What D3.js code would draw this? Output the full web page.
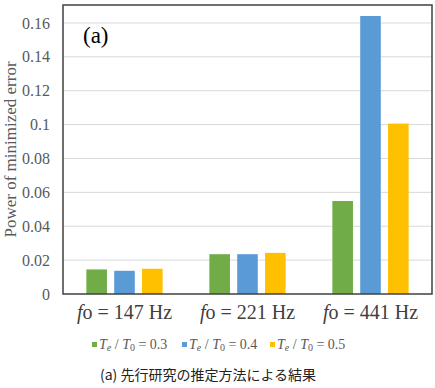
<!DOCTYPE html>
<html>
<head>
<meta charset="utf-8">
<script src="https://cdn.jsdelivr.net/npm/d3@7"></script>
<style>
  body { margin: 0; background: #fff; }
  svg { display: block; }
  .serif { font-family: "Liberation Serif", "Times New Roman", "DejaVu Serif", serif; }
  .cjk { font-family: "Noto Sans CJK JP", sans-serif; }
</style>
</head>
<body>
<svg id="chart" width="435" height="388"></svg>
<script>
// data
const categories = ['147', '221', '441'];
const seriesNames = ['0.3', '0.4', '0.5'];
const ratio03 = [0.0145, 0.0235, 0.0549];
const ratio04 = [0.0137, 0.0235, 0.1641];
const ratio05 = [0.0149, 0.0243, 0.1006];
const yTicks = [0, 0.02, 0.04, 0.06, 0.08, 0.1, 0.12, 0.14, 0.16];
const colors = ['#70AD47', '#5B9BD5', '#FFC000'];

const margin = { top: 5, right: 3, bottom: 94, left: 63 };
const width = 435 - margin.left - margin.right;
const height = 388 - margin.top - margin.bottom;

const svg = d3.select('#chart');
const g = svg.append('g').attr('transform', `translate(${margin.left},${margin.top})`);

const series = [ratio03, ratio04, ratio05];

const x0 = d3.scaleBand().domain(categories).range([0, width]).paddingInner(0.38).paddingOuter(0.19);
const x1 = d3.scaleBand().domain(seriesNames).range([0, x0.bandwidth()]).paddingInner(0.26);
const y = d3.scaleLinear().domain([0, 0.1706]).range([height, 0]);

// gridlines
g.append('g')
  .selectAll('line')
  .data(yTicks.filter(t => t > 0))
  .enter().append('line')
  .attr('x1', 0).attr('x2', width)
  .attr('y1', d => y(d)).attr('y2', d => y(d))
  .attr('stroke', '#d9d9d9').attr('stroke-width', 1);

// y axis labels
const yAxis = g.append('g').call(d3.axisLeft(y).tickValues(yTicks).tickSize(0).tickPadding(13).tickFormat(d => d === 0 ? '0' : String(+d.toFixed(2))));
yAxis.select('.domain').remove();
yAxis.attr('font-family', null);
yAxis.selectAll('text').attr('class', 'serif').attr('font-size', 16).attr('fill', '#595959');

// bars
categories.forEach((c, i) => {
  g.append('g')
    .attr('transform', `translate(${x0(c)},0)`)
    .selectAll('rect')
    .data(series.map((s, k) => ({ key: seriesNames[k], value: s[i], color: colors[k] })))
    .enter().append('rect')
    .attr('x', d => x1(d.key))
    .attr('y', d => y(d.value))
    .attr('width', x1.bandwidth())
    .attr('height', d => height - y(d.value))
    .attr('fill', d => d.color);
});

// frame
g.append('rect')
  .attr('x', 0).attr('y', 0).attr('width', width).attr('height', height)
  .attr('fill', 'none').attr('stroke', '#404040').attr('stroke-width', 1.5);

// category labels
const xl = g.append('g').selectAll('text')
  .data(categories)
  .enter().append('text')
  .attr('class', 'serif')
  .attr('x', d => x0(d) + x0.bandwidth() / 2)
  .attr('y', height + 25)
  .attr('text-anchor', 'middle')
  .attr('font-size', 20)
  .attr('fill', '#404040');
xl.append('tspan').attr('font-style', 'italic').text('f');
xl.append('tspan').text(d => `o = ${d} Hz`);

// y title
svg.append('text')
  .attr('class', 'serif')
  .attr('transform', `translate(16,${margin.top + height / 2}) rotate(-90)`)
  .attr('text-anchor', 'middle')
  .attr('font-size', 17)
  .attr('fill', '#595959')
  .text('Power of minimized error');

// panel label
g.append('text')
  .attr('class', 'serif')
  .attr('x', 20).attr('y', 38)
  .attr('font-size', 23)
  .attr('fill', '#000')
  .text('(a)');

// legend
const legendX = [92, 182, 270];
const leg = svg.append('g').selectAll('g')
  .data(seriesNames)
  .enter().append('g')
  .attr('transform', (d, i) => `translate(${legendX[i]},349)`);
leg.append('rect').attr('x', 0).attr('y', -7).attr('width', 5).attr('height', 5).attr('fill', (d, i) => colors[i]);
const lt = leg.append('text')
  .attr('class', 'serif')
  .attr('x', 7)
  .attr('font-size', 14)
  .attr('fill', '#595959');
lt.append('tspan').attr('font-style', 'italic').text('T');
lt.append('tspan').attr('font-style', 'italic').attr('font-size', 10).attr('dy', 2).text('e');
lt.append('tspan').attr('dy', -2).text(' / ');
lt.append('tspan').attr('font-style', 'italic').text('T');
lt.append('tspan').attr('font-size', 10).attr('dy', 2).text('0');
lt.append('tspan').attr('dy', -2).text(d => `  =  ${d}`);

// caption
svg.append('text')
  .attr('class', 'cjk')
  .attr('x', 100).attr('y', 380)
  .attr('font-size', 14)
  .attr('fill', '#222')
  .text('(a) 先行研究の推定方法による結果');
</script>
</body>
</html>
